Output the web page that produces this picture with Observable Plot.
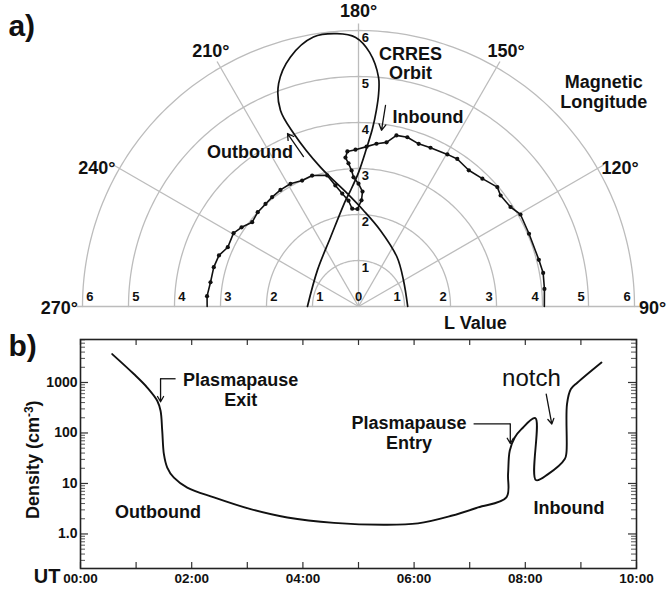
<!DOCTYPE html>
<html><head><meta charset="utf-8">
<script src="https://cdn.jsdelivr.net/npm/d3@7"></script>
<script src="https://cdn.jsdelivr.net/npm/@observablehq/plot@0.6"></script>
<style>
body{margin:0;background:#fff;}
#wrap{position:relative;width:668px;height:591px;font-family:"Liberation Sans",Arial,sans-serif;}
#a{position:absolute;left:0;top:0;}
#b{position:absolute;left:0;top:325px;}
</style></head><body><div id="wrap"><div id="a"></div><div id="b"></div></div>
<script>
// ---------- Panel a data: plasmapause (magnetic longitude, L) ----------
const ppLongitude = [270, 266.1, 260.7, 254.8, 249.9, 245.6, 239.6, 235.9, 231.6, 226.9,
  222.2, 218.3, 213.8, 209.0, 204.1, 199.5, 193.4, 190.8, 188.2, 185.4,
  183.7, 180.6, 178.4, 178.0, 180.0, 182.2, 182.9, 184.0, 185.0, 184.1,
  181.1, 177.1, 173.7, 170.3, 167.5, 163.9, 159.7, 155.6, 149.7, 146.2,
  141.0, 135.9, 130.7, 128.0, 123.2, 119.6, 113.1, 104.5, 100.3, 95.4, 90];
const ppL = [3.29, 3.30, 3.26, 3.26, 3.23, 3.12, 3.15, 3.07, 2.95, 3.00,
  3.01, 3.03, 3.05, 3.05, 3.00, 3.02, 2.93, 2.68, 2.48, 2.31,
  2.13, 2.12, 2.31, 2.50, 2.67, 2.81, 2.96, 3.12, 3.25, 3.38,
  3.41, 3.48, 3.56, 3.62, 3.81, 3.83, 3.77, 3.79, 3.83, 3.86,
  3.81, 3.87, 3.98, 3.92, 3.95, 4.05, 4.03, 4.05, 4.08, 4.06, 4.04];
// CRRES orbit (outbound -> inbound)
const orbitLongitude = [90, 120, 141.9, 163.9, 177.0, 185.7, 195.3, 200.5, 201.7, 199.7,
  195.3, 189.5, 184.5, 180.6, 177.5, 175.0, 174.6, 174.8, 175.5, 177.1,
  180, 183.9, 187, 202.1, 228.7, 270];
const orbitL = [1.07, 1.13, 1.36, 1.72, 2.09, 2.47, 3.14, 4.01, 4.59, 5.15,
  5.62, 5.94, 5.95, 5.85, 5.53, 5.00, 4.65, 4.28, 3.88, 3.44,
  2.91, 2.53, 2.32, 1.62, 1.19, 1.11];
const angleTicks = [90, 120, 150, 180, 210, 240, 270];
const lValues = [1, 2, 3, 4, 5, 6];

// ---------- Panel b data: density vs UT ----------
const utHours = [0.57, 0.96, 1.20, 1.38, 1.44, 1.47, 1.50, 1.56, 1.68, 1.92,
  2.40, 3.06, 3.72, 4.56, 5.47, 6.07, 6.67, 7.15, 7.66, 7.69,
  7.72, 7.81, 7.93, 8.18, 8.19, 8.41, 8.71, 8.74, 8.75, 8.82, 8.94, 9.37];
const density = [3650, 1470, 795, 435, 275, 110, 38, 20.7, 13, 8.3,
  5.3, 3.1, 2.12, 1.66, 1.52, 1.62, 2.29, 3.35, 5.3, 15.3,
  44.5, 81.5, 119, 197, 11.7, 15.3, 30.4, 41, 373, 740, 1000, 2490];
const utTicks = [0, 2, 4, 6, 8, 10];
const utTickLabels = ["00:00", "02:00", "04:00", "06:00", "08:00", "10:00"];
const densityTicks = [1, 10, 100, 1000];
const densityTickLabels = ["1.0", "10", "100", "1000"];

// ---------- helpers ----------
const FONT = '"Liberation Sans", Arial, Helvetica, sans-serif';
const rad = d => d * Math.PI / 180;
const P = (th, L) => ({x: L * Math.sin(rad(th)), y: -L * Math.cos(rad(th))});
const GRID = "#bcbcbc";
const INK = "#111";

// ---------- Panel a ----------
const circles = lValues.flatMap(r => d3.range(90, 270.001, 1).map(t => ({r, ...P(t, r)})));
const spokes = [120, 150, 180, 210, 240].map(t => P(t, 6.15));
const pp = ppLongitude.map((t, i) => P(t, ppL[i]));
const orbit = orbitLongitude.map((t, i) => P(t, orbitL[i]));
const angleLab = angleTicks.map(t => {
  const s = Math.sin(rad(t));
  const side = Math.abs(s) > 0.8;
  const p = P(t, side ? 6.1 : 6.42);
  return {...p, label: t + "°", anchor: side ? (s > 0 ? "start" : "end") : "middle"};
});
const baseLab = [{x: 0, label: "0"},
  ...lValues.map(r => ({x: -(r - 0.16), label: String(r)})),
  ...lValues.map(r => ({x: r - 0.16, label: String(r)}))];
const vertLab = lValues.map(r => ({y: r - 0.17, label: String(r)}));
const txtA = {fontFamily: FONT, fontWeight: "bold", fill: INK};

const plotA = Plot.plot({
  width: 668, height: 325, margin: 0,
  style: {fontFamily: FONT, background: "transparent", overflow: "visible"},
  x: {domain: [-358 / 46, 310 / 46], axis: null},
  y: {domain: [-19 / 46, 306 / 46], axis: null},
  marks: [
    Plot.line(circles, {x: "x", y: "y", z: "r", stroke: GRID, strokeWidth: 1.3}),
    Plot.link(spokes, {x1: () => 0, y1: () => 0, x2: "x", y2: "y", stroke: GRID, strokeWidth: 1.3}),
    Plot.link([0], {x1: () => -6.12, x2: () => 6.12, y1: () => 0, y2: () => 0, stroke: GRID, strokeWidth: 1.6}),
    Plot.line(orbit, {x: "x", y: "y", curve: "catmull-rom", stroke: INK, strokeWidth: 1.7}),
    Plot.line(pp, {x: "x", y: "y", stroke: INK, strokeWidth: 1.6}),
    Plot.dot(pp.slice(1, -1), {x: "x", y: "y", r: 2.1, fill: INK}),
    Plot.text(baseLab, {x: "x", y: () => 0.2, text: "label", ...txtA, fontSize: 13}),
    Plot.text(vertLab, {x: () => 0.15, y: "y", text: "label", ...txtA, fontSize: 13}),
    Plot.text(angleLab.filter(d => d.anchor === "start"), {x: "x", y: "y", text: "label", textAnchor: "start", dy: 2, ...txtA, fontSize: 18}),
    Plot.text(angleLab.filter(d => d.anchor === "end"), {x: "x", y: "y", text: "label", textAnchor: "end", dy: 2, ...txtA, fontSize: 18}),
    Plot.text(angleLab.filter(d => d.anchor === "middle"), {x: "x", y: "y", text: "label", textAnchor: "middle", ...txtA, fontSize: 18}),
    Plot.text(["a)"], {x: () => -7.61, y: () => 6.1, text: d => d, textAnchor: "start", ...txtA, fontSize: 30}),
    Plot.text(["CRRES\nOrbit"], {x: () => 1.13, y: () => 5.29, text: d => d, lineHeight: 1.1, ...txtA, fontSize: 18}),
    Plot.text(["Magnetic\nLongitude"], {x: () => 5.33, y: () => 4.67, text: d => d, lineHeight: 1.1, ...txtA, fontSize: 18}),
    Plot.text(["Inbound"], {x: () => 0.74, y: () => 4.11, text: d => d, textAnchor: "start", ...txtA, fontSize: 18}),
    Plot.text(["Outbound"], {x: () => -2.36, y: () => 3.35, text: d => d, ...txtA, fontSize: 18}),
    Plot.text(["L Value"], {x: () => 2.54, y: () => -0.37, text: d => d, ...txtA, fontSize: 18}),
    Plot.arrow([0], {x1: () => -1.196, y1: () => 3.26, x2: () => -1.543, y2: () => 3.76, stroke: INK, strokeWidth: 1.3, headLength: 8}),
    Plot.arrow([0], {x1: () => 0.587, y1: () => 4.37, x2: () => 0.5, y2: () => 3.83, stroke: INK, strokeWidth: 1.3, headLength: 8})
  ]
});
document.getElementById("a").appendChild(plotA);

// ---------- Panel b ----------
const series = utHours.map((h, i) => ({h, d: density[i]}));
const yDomain = [0.207, 7100];
const minor = [];
for (const e of [-1, 0, 1, 2, 3]) for (let k = 2; k <= 9; k++) {
  const v = k * Math.pow(10, e);
  if (v > yDomain[0] && v < yDomain[1]) minor.push(v);
}
const hours = d3.range(0, 11);
const MT = 14, MB = 23, ML = 80, MR = 32, HB = 266;
const FW = 668 - ML - MR, FH = HB - MT - MB;
const txtB = {fontFamily: FONT, fontWeight: "bold", fill: INK};

const plotB = Plot.plot({
  width: 668, height: HB, marginTop: MT, marginBottom: MB, marginLeft: ML, marginRight: MR,
  style: {fontFamily: FONT, background: "transparent", overflow: "visible"},
  x: {domain: [0, 10], axis: null},
  y: {type: "log", domain: yDomain, axis: null},
  marks: [
    Plot.tickX(hours, {x: d => d, insetTop: FH - 6, stroke: "#333", strokeWidth: 1.2}),
    Plot.tickX(hours, {x: d => d, insetBottom: FH - 6, stroke: "#333", strokeWidth: 1.2}),
    Plot.tickY(densityTicks, {y: d => d, insetRight: FW - 8, stroke: "#333", strokeWidth: 1.2}),
    Plot.tickY(densityTicks, {y: d => d, insetLeft: FW - 8, stroke: "#333", strokeWidth: 1.2}),
    Plot.tickY(minor, {y: d => d, insetRight: FW - 5, stroke: "#555", strokeWidth: 1}),
    Plot.tickY(minor, {y: d => d, insetLeft: FW - 5, stroke: "#555", strokeWidth: 1}),
    Plot.frame({stroke: "#222", strokeWidth: 1.6}),
    Plot.line(series, {x: "h", y: "d", curve: "catmull-rom", stroke: INK, strokeWidth: 1.9}),
    Plot.text(utTicks, {x: d => d, text: (d, i) => utTickLabels[i], frameAnchor: "bottom", textAnchor: "middle", dy: 14, ...txtB, fontSize: 13.5}),
    Plot.text(["UT"], {x: () => 0, text: d => d, frameAnchor: "bottom", dy: 14, dx: -20, textAnchor: "end", ...txtB, fontSize: 20}),
    Plot.text(densityTicks, {y: d => d, text: (d, i) => densityTickLabels[i], frameAnchor: "left", textAnchor: "end", dx: -3, ...txtB, fontSize: 14}),
    Plot.text(["Density (cm-3)"], {y: () => 29.5, text: d => d, frameAnchor: "left", textAnchor: "middle", dx: -47, rotate: -90, ...txtB, fontSize: 18}),
    Plot.text(["Plasmapause\nExit"], {x: () => 2.88, y: () => 733, text: d => d, lineHeight: 1.1, ...txtB, fontSize: 18}),
    Plot.link([0], {x1: () => 1.71, x2: () => 1.44, y1: () => 1185, y2: () => 1185, stroke: INK, strokeWidth: 1.3}),
    Plot.arrow([0], {x1: () => 1.44, x2: () => 1.44, y1: () => 1185, y2: () => 415, stroke: INK, strokeWidth: 1.3, headLength: 7}),
    Plot.text(["Plasmapause\nEntry"], {x: () => 5.91, y: () => 101, text: d => d, lineHeight: 1.1, ...txtB, fontSize: 18}),
    Plot.link([0], {x1: () => 7.07, x2: () => 7.73, y1: () => 152, y2: () => 152, stroke: INK, strokeWidth: 1.3}),
    Plot.arrow([0], {x1: () => 7.73, x2: () => 7.73, y1: () => 152, y2: () => 62, stroke: INK, strokeWidth: 1.3, headLength: 7}),
    Plot.text(["notch"], {x: () => 8.11, y: () => 1184, text: d => d, fontFamily: FONT, fill: INK, fontSize: 24}),
    Plot.arrow([0], {x1: () => 8.376, x2: () => 8.477, y1: () => 589, y2: () => 150, stroke: INK, strokeWidth: 1.3, headLength: 7}),
    Plot.text(["Outbound"], {x: () => 1.394, y: () => 2.75, text: d => d, ...txtB, fontSize: 18}),
    Plot.text(["Inbound"], {x: () => 8.786, y: () => 3.3, text: d => d, ...txtB, fontSize: 18}),
    Plot.text(["b)"], {x: () => 0, y: () => 7100, text: d => d, dx: -72, dy: 7, textAnchor: "start", ...txtB, fontSize: 30})
  ]
});
document.getElementById("b").appendChild(plotB);

d3.select(plotB).selectAll("text").filter(function () { return this.textContent === "Density (cm-3)"; })
  .each(function () {
    const t = d3.select(this);
    t.text("Density (cm");
    t.append("tspan").attr("dy", "-6").attr("font-size", "12px").text("-3");
    t.append("tspan").attr("dy", "6").text(")");
  });
</script>
</body></html>
